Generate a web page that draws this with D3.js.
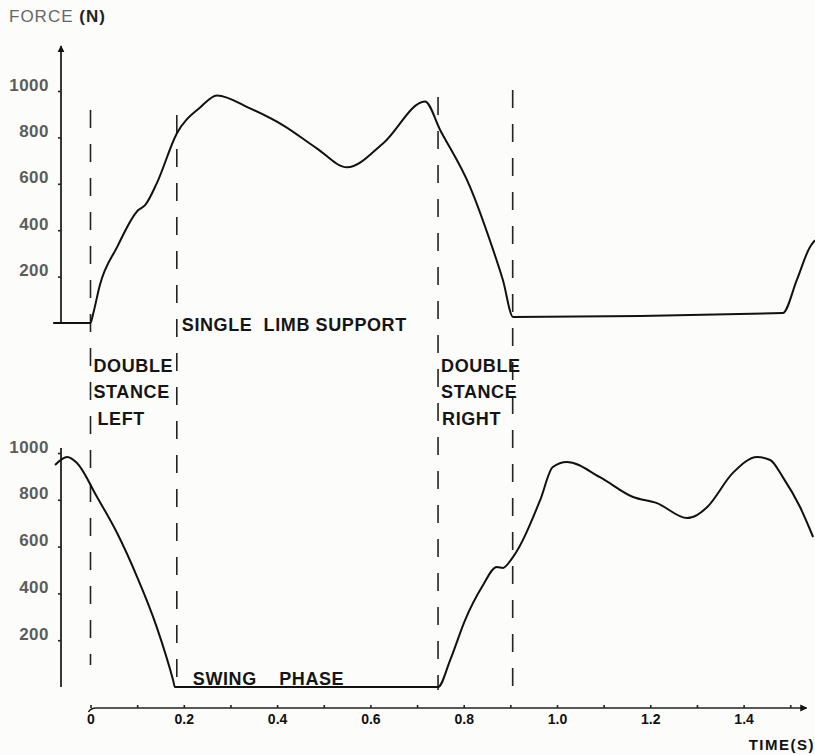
<!DOCTYPE html>
<html>
<head>
<meta charset="utf-8">
<script src="https://cdn.jsdelivr.net/npm/d3@7"></script>
<style>
  body { margin: 0; background: #fcfcfa; }
  svg { display: block; font-family: "Liberation Sans", Arial, sans-serif; }
  .curve { fill: none; stroke: #111; stroke-width: 2; stroke-linejoin: round; }
  .phase { stroke: #222; stroke-width: 1.6; stroke-dasharray: 18,16; }
  .axis path, .axis line { stroke: #222; stroke-width: 1.6; }
  .ylab text { fill: #5c5c5c; font-size: 17px; font-weight: bold; letter-spacing: 0.5px; }
  .xlab text { fill: #111; font-size: 14px; font-weight: bold; }
  .note { fill: #151515; font-size: 18px; font-weight: bold; letter-spacing: 0.6px; }
</style>
</head>
<body>
<svg width="815" height="755"></svg>
<script>
// left foot force (top trace), time in s, force in N
var leftTime  = [-0.08, 0, 0.005, 0.02, 0.057, 0.102, 0.117, 0.142, 0.185, 0.235, 0.271, 0.342, 0.413, 0.485, 0.55, 0.627, 0.717, 0.75, 0.814, 0.856, 0.884, 0.906, 1.484, 1.514, 1.542, 1.553];
var leftForce = [0, 0, 34, 163, 327, 486, 508, 602, 817, 929, 981, 925, 852, 753, 671, 774, 955, 830, 585, 357, 185, 26, 43, 185, 327, 357];

// right foot force (bottom trace)
var rightTime  = [-0.076, -0.05, -0.029, 0.014, 0.057, 0.1, 0.142, 0.177, 0.181, 0.745, 0.771, 0.803, 0.839, 0.871, 0.884, 0.904, 0.964, 0.991, 1.021, 1.092, 1.163, 1.214, 1.279, 1.3, 1.322, 1.377, 1.429, 1.457, 1.484, 1.521, 1.549];
var rightForce = [949, 983, 957, 812, 658, 470, 256, 30, 0, 0, 115, 286, 427, 513, 509, 551, 799, 940, 962, 897, 812, 786, 722, 735, 769, 915, 983, 970, 897, 769, 641];

// gait event times (dashed lines)
var phaseTimes = [0, 0.185, 0.745, 0.905];

var forceTicks = [200, 400, 600, 800, 1000];
var timeTicks = [0, 0.2, 0.4, 0.6, 0.8, 1.0, 1.2, 1.4];
var timeMinor = [0.1, 0.3, 0.5, 0.7, 0.9, 1.1, 1.3, 1.5];
var timeLabels = ["0", "0.2", "0.4", "0.6", "0.8", "1.0", "1.2", "1.4"];

var svg = d3.select("svg");

var axisX = 61, timeAxisY = 708;
var x = d3.scaleLinear().domain([0, 1]).range([90.5, 557]);
var yTop = d3.scaleLinear().domain([0, 1000]).range([323, 91]);
var yBot = d3.scaleLinear().domain([0, 1000]).range([687, 453]);

function zip(t, f) { return t.map(function(d, i) { return [d, f[i]]; }); }

svg.append("defs").append("marker")
    .attr("id", "arrow")
    .attr("viewBox", "0 0 10 10")
    .attr("refX", 9).attr("refY", 5)
    .attr("markerWidth", 7).attr("markerHeight", 8)
    .attr("markerUnits", "userSpaceOnUse")
    .attr("orient", "auto")
  .append("path")
    .attr("d", "M0,0L10,5L0,10Z")
    .attr("fill", "#111");

// force axes
svg.append("line")
    .attr("x1", axisX).attr("x2", axisX)
    .attr("y1", yTop(0)).attr("y2", 46)
    .attr("stroke", "#222").attr("stroke-width", 1.8)
    .attr("marker-end", "url(#arrow)");

svg.append("line")
    .attr("x1", axisX).attr("x2", axisX)
    .attr("y1", yBot(0)).attr("y2", 448)
    .attr("stroke", "#222").attr("stroke-width", 1.8);

[yTop, yBot].forEach(function(y) {
  var g = svg.append("g")
      .attr("class", "axis ylab")
      .attr("transform", "translate(" + axisX + ",0)")
      .call(d3.axisLeft(y).tickValues(forceTicks).tickSize(3).tickPadding(9).tickFormat(d3.format("d")));
  g.select(".domain").remove();
  g.selectAll("text").attr("dy", "-0.05em");
});

// time axis
svg.append("path")
    .attr("d", "M" + (x(0) - 2) + "," + (timeAxisY + 4) + "Q" + x(0) + "," + timeAxisY + " " + (x(0) + 6) + "," + timeAxisY + "L" + x(1.535) + "," + timeAxisY)
    .attr("fill", "none").attr("stroke", "#222").attr("stroke-width", 1.6)
    .attr("marker-end", "url(#arrow)");

var gx = svg.append("g")
    .attr("class", "axis xlab")
    .attr("transform", "translate(0," + timeAxisY + ")")
    .call(d3.axisBottom(x).tickValues(timeTicks).tickSize(-3).tickPadding(6)
      .tickFormat(function(d, i) { return timeLabels[i]; }));
gx.select(".domain").remove();

svg.append("g")
    .attr("class", "axis")
    .attr("transform", "translate(0," + timeAxisY + ")")
    .call(d3.axisBottom(x).tickValues(timeMinor).tickSize(-3).tickFormat(""))
    .select(".domain").remove();

// dashed event lines
var dashSpans = [[110, 665], [115, 686], [97, 690], [90, 690]];
svg.selectAll(".phase")
    .data(phaseTimes)
  .enter().append("line")
    .attr("class", "phase")
    .attr("x1", function(d) { return x(d); })
    .attr("x2", function(d) { return x(d); })
    .attr("y1", function(d, i) { return dashSpans[i][0]; })
    .attr("y2", function(d, i) { return dashSpans[i][1]; });

// traces
svg.append("path")
    .datum(zip(leftTime, leftForce))
    .attr("class", "curve")
    .attr("d", d3.line().curve(d3.curveMonotoneX)
      .x(function(d) { return x(d[0]); })
      .y(function(d) { return yTop(d[1]); }));

svg.append("path")
    .datum(zip(rightTime, rightForce))
    .attr("class", "curve")
    .attr("d", d3.line().curve(d3.curveMonotoneX)
      .x(function(d) { return x(d[0]); })
      .y(function(d) { return yBot(d[1]); }));

// titles
var ft = svg.append("text").attr("x", 9).attr("y", 22).style("font-size", "17px").style("letter-spacing", "1px");
ft.append("tspan").attr("fill", "#666").text("FORCE ");
ft.append("tspan").attr("fill", "#222").style("font-weight", "bold").text("(N)");

svg.append("text")
    .attr("x", 815).attr("y", 750)
    .attr("text-anchor", "end")
    .style("font-size", "15px").style("font-weight", "bold").style("letter-spacing", "1.5px")
    .attr("fill", "#111")
    .text("TIME(S)");

// phase labels
var notes = [
  {t: phaseTimes[1], dx: 5, y: 331, s: "SINGLE  LIMB SUPPORT"},
  {t: phaseTimes[0], dx: 3, y: 372, s: "DOUBLE"},
  {t: phaseTimes[0], dx: 3, y: 398, s: "STANCE"},
  {t: phaseTimes[0], dx: 7, y: 425, s: "LEFT"},
  {t: phaseTimes[2], dx: 3, y: 372, s: "DOUBLE"},
  {t: phaseTimes[2], dx: 3, y: 398, s: "STANCE"},
  {t: phaseTimes[2], dx: 4, y: 425, s: "RIGHT"},
  {t: phaseTimes[1], dx: 16, y: 685, s: "SWING    PHASE"}
];
svg.selectAll(".note")
    .data(notes)
  .enter().append("text")
    .attr("class", "note")
    .attr("x", function(d) { return x(d.t) + d.dx; })
    .attr("y", function(d) { return d.y; })
    .attr("xml:space", "preserve")
    .style("white-space", "pre")
    .text(function(d) { return d.s; });
</script>
</body>
</html>
